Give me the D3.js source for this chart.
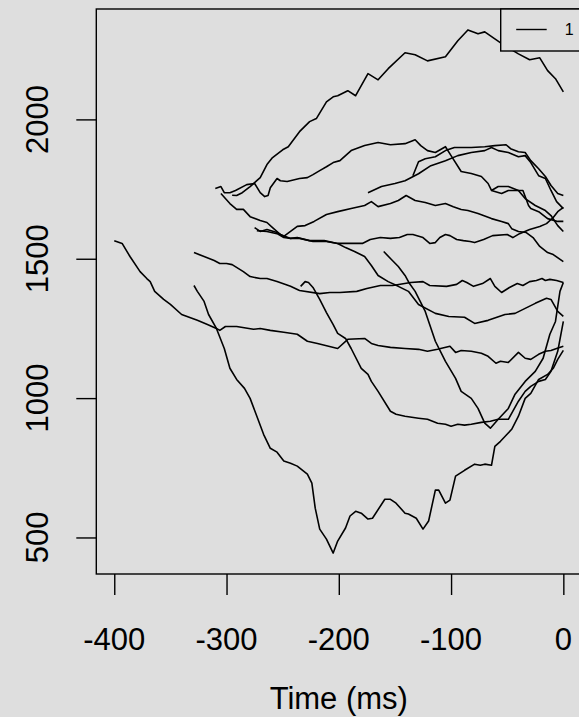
<!DOCTYPE html>
<html>
<head>
<meta charset="utf-8">
<script src="https://cdn.jsdelivr.net/npm/d3@7"></script>
<style>
  html, body { margin: 0; padding: 0; background: #dedede; }
  svg { display: block; }
</style>
</head>
<body>
<div id="chart"></div>
<script>
// traces: [time (ms), value]
const traceArch = [[-295,1728],[-291,1727],[-286,1737],[-279,1759],[-270,1791],[-264,1838],[-259,1863],[-250,1891],[-245,1902],[-235,1956],[-226,1992],[-220,2003],[-211,2063],[-205,2081],[-201,2085],[-192,2103],[-185,2085],[-174,2164],[-165,2142],[-156,2182],[-141,2239],[-132,2232],[-121,2210],[-105,2225],[-94,2282],[-85,2321],[-76,2307],[-70,2314],[-61,2289],[-52,2264],[-40,2235],[-30,2214],[-21,2221],[-14,2175],[-7,2146],[0,2099]];
const traceP1 = [[-310,1752],[-305,1759],[-302,1737],[-297,1737],[-292,1745],[-282,1766],[-275,1770],[-270,1737],[-266,1723],[-263,1727],[-261,1755],[-255,1788],[-252,1780],[-246,1777],[-235,1788],[-228,1791],[-223,1802],[-217,1816],[-211,1830],[-205,1845],[-199,1852],[-189,1888],[-177,1906],[-165,1917],[-154,1909],[-141,1913],[-132,1927],[-127,1906],[-121,1888],[-114,1881],[-105,1902],[-100,1870],[-91,1813],[-82,1806],[-73,1795],[-67,1770],[-64,1745],[-55,1734],[-49,1745],[-40,1745],[-36,1745],[-31,1691],[-29,1680],[-22,1669],[-14,1644],[-5,1634],[0,1634]];
const traceP2 = [[-305,1734],[-297,1698],[-291,1677],[-285,1677],[-279,1651],[-270,1637],[-264,1630],[-259,1612],[-252,1587],[-243,1573],[-235,1573],[-223,1562],[-211,1562],[-201,1555],[-187,1555],[-179,1555],[-172,1569],[-163,1576],[-154,1573],[-146,1576],[-139,1587],[-134,1587],[-125,1576],[-119,1555],[-114,1558],[-110,1576],[-105,1587],[-101,1583],[-95,1569],[-89,1565],[-83,1562],[-79,1558],[-71,1569],[-63,1583],[-50,1587],[-45,1576],[-39,1590],[-30,1605],[-21,1616],[-15,1626],[-9,1648],[-5,1669],[0,1684]];
const traceS5 = [[-275,1612],[-270,1598],[-264,1605],[-255,1594],[-249,1580],[-237,1616],[-230,1619],[-222,1634],[-211,1659],[-201,1669],[-189,1680],[-177,1691],[-171,1705],[-165,1687],[-154,1698],[-147,1709],[-140,1727],[-132,1709],[-123,1702],[-114,1691],[-105,1698],[-98,1687],[-91,1677],[-85,1673],[-76,1662],[-64,1644],[-55,1634],[-49,1626],[-46,1608],[-40,1598],[-33,1594],[-27,1576],[-21,1544],[-14,1522],[-9,1515],[0,1490]];
const traceU = [[-273,1601],[-264,1598],[-255,1590],[-249,1576],[-243,1573],[-237,1576],[-226,1565],[-213,1565],[-201,1555],[-194,1540],[-186,1526],[-177,1508],[-171,1476],[-165,1440],[-156,1418],[-147,1401],[-138,1383],[-129,1336],[-114,1304],[-102,1293],[-88,1290],[-79,1268],[-67,1279],[-52,1300],[-43,1304],[-34,1322],[-25,1340],[-15,1358],[-11,1354],[-5,1311],[0,1293]];
const traceB = [[-134,1798],[-129,1848],[-123,1859],[-114,1866],[-105,1888],[-97,1899],[-82,1899],[-70,1902],[-61,1906],[-51,1909],[-47,1895],[-40,1884],[-34,1881],[-29,1852],[-22,1823],[-16,1795],[-11,1763],[-5,1734],[0,1727]];
const traceC = [[-174,1737],[-162,1759],[-150,1770],[-141,1780],[-129,1805],[-118,1834],[-105,1852],[-94,1870],[-82,1881],[-70,1888],[-64,1899],[-58,1888],[-49,1881],[-40,1866],[-34,1870],[-29,1845],[-22,1798],[-16,1788],[-11,1745],[-6,1705],[0,1680]];
const traceE = [[-64,1745],[-58,1759],[-49,1759],[-40,1745],[-34,1716],[-25,1691],[-16,1673],[-11,1655],[-5,1619],[0,1598]];
const traceS1 = [[-400,1565],[-393,1555],[-386,1508],[-377,1454],[-371,1429],[-368,1418],[-364,1383],[-356,1354],[-350,1336],[-340,1300],[-326,1279],[-317,1264],[-309,1250],[-306,1243],[-301,1257],[-291,1257],[-276,1247],[-270,1250],[-261,1243],[-249,1236],[-237,1229],[-228,1204],[-219,1196],[-201,1178],[-192,1211],[-177,1214],[-171,1196],[-165,1189],[-154,1182],[-141,1178],[-129,1175],[-121,1168],[-112,1175],[-101,1186],[-96,1164],[-91,1171],[-82,1168],[-73,1161],[-67,1150],[-60,1125],[-56,1132],[-49,1128],[-40,1164],[-34,1143],[-29,1139],[-22,1157],[-16,1168],[-11,1171],[-6,1178],[0,1186]];
const traceS2 = [[-329,1522],[-320,1508],[-311,1494],[-306,1483],[-300,1483],[-295,1479],[-285,1454],[-279,1436],[-270,1429],[-264,1429],[-255,1418],[-243,1401],[-235,1386],[-217,1375],[-208,1379],[-199,1379],[-184,1383],[-175,1393],[-163,1404],[-152,1404],[-136,1415],[-125,1418],[-119,1404],[-104,1401],[-95,1408],[-90,1422],[-86,1415],[-80,1401],[-72,1411],[-65,1429],[-61,1401],[-55,1379],[-48,1397],[-41,1411],[-36,1404],[-30,1418],[-24,1422],[-19,1429],[-16,1422],[-12,1426],[-6,1422],[0,1415]];
const traceS3 = [[-329,1404],[-326,1383],[-320,1347],[-316,1300],[-309,1250],[-302,1178],[-297,1107],[-291,1067],[-284,1035],[-279,999],[-273,935],[-267,870],[-261,820],[-255,806],[-249,774],[-243,766],[-237,756],[-228,727],[-224,695],[-221,605],[-217,530],[-211,494],[-205,444],[-201,487],[-194,534],[-190,577],[-185,594],[-180,587],[-174,566],[-170,569],[-159,637],[-154,637],[-149,623],[-141,587],[-138,584],[-131,569],[-125,530],[-120,559],[-114,670],[-111,670],[-105,623],[-101,634],[-96,720],[-88,741],[-79,763],[-74,759],[-70,763],[-64,759],[-61,827],[-56,845],[-46,888],[-40,935],[-34,999],[-29,1017],[-22,1067],[-14,1085],[-9,1107],[-5,1139],[0,1171]];
const traceS6 = [[-160,1526],[-154,1501],[-147,1472],[-141,1440],[-137,1411],[-132,1383],[-123,1311],[-114,1204],[-105,1132],[-96,1071],[-91,1024],[-82,999],[-76,963],[-70,910],[-65,892],[-58,924],[-49,963],[-43,1014],[-34,1060],[-25,1096],[-18,1143],[-12,1229],[-7,1275],[-3,1383],[0,1415]];
const traceH = [[-234,1401],[-230,1418],[-227,1415],[-223,1397],[-217,1354],[-211,1307],[-205,1264],[-201,1232],[-194,1214],[-189,1178],[-180,1107],[-174,1085],[-171,1060],[-165,1024],[-154,953],[-149,942],[-141,935],[-129,928],[-121,924],[-112,910],[-105,906],[-100,899],[-94,906],[-88,903],[-82,906],[-73,913],[-65,917],[-58,924],[-49,924],[-40,989],[-34,1024],[-29,1042],[-22,1060],[-16,1067],[-11,1096],[-5,1168],[0,1275]];

const traces = [traceArch, traceP1, traceP2, traceS5, traceU, traceB, traceC, traceE,
                traceS1, traceS2, traceS3, traceS6, traceH];

const xTicks = [-400, -300, -200, -100, 0];
const yTicks = [500, 1000, 1500, 2000];
const legendLabels = ["1"];
const xTitle = "Time (ms)";

const W = 579, H = 717;
const font = "'Liberation Sans', Arial, Helvetica, sans-serif";

const svg = d3.select("#chart").append("svg")
  .attr("width", W)
  .attr("height", H)
  .style("background", "#dedede");

// R style 4% range extension
const allPts = traces.flat();
const xExt = d3.extent(allPts, d => d[0]);
const yExt = d3.extent(allPts, d => d[1]);
const xPad = (xExt[1] - xExt[0]) * 0.04;
const yPad = (yExt[1] - yExt[0]) * 0.04;

const plot = { left: 96.3, right: 581.3, top: 9, bottom: 574 };

const x = d3.scaleLinear()
  .domain([xExt[0] - xPad, xExt[1] + xPad])
  .range([plot.left, plot.right]);
const y = d3.scaleLinear()
  .domain([yExt[0] - yPad, yExt[1] + yPad])
  .range([plot.bottom, plot.top]);

// lines
const line = d3.line().x(d => x(d[0])).y(d => y(d[1]));
svg.append("g")
  .selectAll("path")
  .data(traces)
  .enter()
  .append("path")
  .attr("d", line)
  .attr("fill", "none")
  .attr("stroke", "#000")
  .attr("stroke-width", 1.6)
  .attr("stroke-linejoin", "round");

// axes (ticks only, labels drawn separately like R)
const yAxis = svg.append("g")
  .attr("transform", `translate(${plot.left},0)`)
  .call(d3.axisLeft(y).tickValues(yTicks).tickSize(20).tickSizeOuter(0).tickFormat(""));
const xAxis = svg.append("g")
  .attr("transform", `translate(0,${plot.bottom})`)
  .call(d3.axisBottom(x).tickValues(xTicks).tickSize(21).tickSizeOuter(0).tickFormat(""));
[xAxis, yAxis].forEach(g => {
  g.select(".domain").remove();
  g.selectAll(".tick line").attr("stroke", "#000").attr("stroke-width", 1.4);
});

svg.append("g")
  .selectAll("text")
  .data(yTicks)
  .enter()
  .append("text")
  .attr("transform", d => `translate(48,${y(d)}) rotate(-90)`)
  .attr("text-anchor", "middle")
  .style("font-family", font)
  .style("font-size", "31px")
  .attr("fill", "#000")
  .text(d => d);

svg.append("g")
  .selectAll("text")
  .data(xTicks)
  .enter()
  .append("text")
  .attr("x", d => x(d))
  .attr("y", 650)
  .attr("text-anchor", "middle")
  .style("font-family", font)
  .style("font-size", "31px")
  .attr("fill", "#000")
  .text(d => d);

svg.append("text")
  .attr("x", (plot.left + plot.right) / 2)
  .attr("y", 709)
  .attr("text-anchor", "middle")
  .style("font-family", font)
  .style("font-size", "31px")
  .attr("fill", "#000")
  .text(xTitle);

// plot box
svg.append("rect")
  .attr("x", plot.left)
  .attr("y", plot.top)
  .attr("width", plot.right - plot.left)
  .attr("height", plot.bottom - plot.top)
  .attr("fill", "none")
  .attr("stroke", "#000")
  .attr("stroke-width", 1.4);

// legend (top right, partly cut off like the original)
const legend = svg.append("g").attr("transform", "translate(500.7,9)");
legend.append("rect")
  .attr("width", 110)
  .attr("height", 42)
  .attr("fill", "#dedede")
  .attr("stroke", "#000")
  .attr("stroke-width", 1.4);
legendLabels.forEach((lab, i) => {
  legend.append("line")
    .attr("x1", 15.5).attr("x2", 46)
    .attr("y1", 20.5 + i * 20).attr("y2", 20.5 + i * 20)
    .attr("stroke", "#000")
    .attr("stroke-width", 1.4);
  legend.append("text")
    .attr("x", 64)
    .attr("y", 26 + i * 20)
    .style("font-family", font)
    .style("font-size", "16px")
    .attr("fill", "#000")
    .text(lab);
});
</script>
</body>
</html>
